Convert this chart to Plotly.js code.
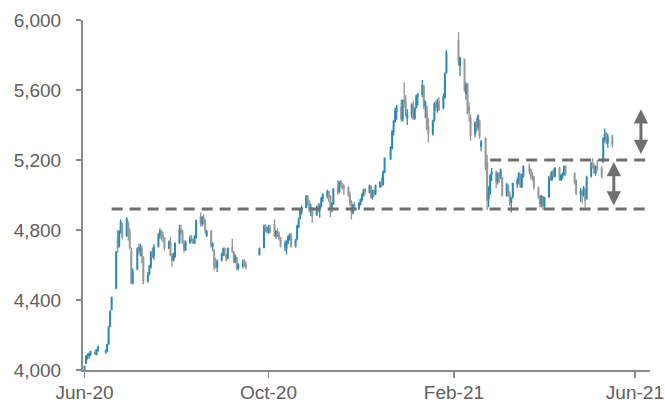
<!DOCTYPE html>
<html>
<head>
<meta charset="utf-8">
<script src="https://cdn.plot.ly/plotly-3.0.1.min.js"></script>
<style>html,body{margin:0;padding:0;background:#fff;}#chart{width:665px;height:405px;}</style>
</head>
<body>
<div id="chart"></div>
<script>
// Trading dates
var dates = [
 '2020-06-15','2020-06-16','2020-06-17','2020-06-18','2020-06-19','2020-06-22','2020-06-23','2020-06-24','2020-06-29','2020-06-30',
 '2020-07-01','2020-07-02','2020-07-03','2020-07-06','2020-07-07','2020-07-08','2020-07-09','2020-07-10','2020-07-13','2020-07-14','2020-07-15','2020-07-16','2020-07-17','2020-07-20','2020-07-21','2020-07-22','2020-07-23','2020-07-24','2020-07-27','2020-07-28','2020-07-29','2020-07-30','2020-07-31',
 '2020-08-03','2020-08-04','2020-08-05','2020-08-06','2020-08-07','2020-08-10','2020-08-11','2020-08-12','2020-08-13','2020-08-14','2020-08-17','2020-08-18','2020-08-19','2020-08-20','2020-08-21','2020-08-24','2020-08-25','2020-08-26','2020-08-27','2020-08-28','2020-08-31',
 '2020-09-01','2020-09-02','2020-09-03','2020-09-04','2020-09-07','2020-09-08','2020-09-09','2020-09-10','2020-09-11','2020-09-14','2020-09-15','2020-09-16','2020-09-17','2020-09-18','2020-09-21','2020-09-22','2020-09-23','2020-09-24','2020-09-25','2020-09-28','2020-09-29','2020-09-30',
 '2020-10-09','2020-10-12','2020-10-13','2020-10-14','2020-10-15','2020-10-16','2020-10-19','2020-10-20','2020-10-21','2020-10-22','2020-10-23','2020-10-26','2020-10-27','2020-10-28','2020-10-29','2020-10-30',
 '2020-11-02','2020-11-03','2020-11-04','2020-11-05','2020-11-06','2020-11-09','2020-11-10','2020-11-11','2020-11-12','2020-11-13','2020-11-16','2020-11-17','2020-11-18','2020-11-19','2020-11-20','2020-11-23','2020-11-24','2020-11-25','2020-11-26','2020-11-27','2020-11-30',
 '2020-12-01','2020-12-02','2020-12-03','2020-12-04','2020-12-07','2020-12-08','2020-12-09','2020-12-10','2020-12-11','2020-12-14','2020-12-15','2020-12-16','2020-12-17','2020-12-18','2020-12-21','2020-12-22','2020-12-23','2020-12-24','2020-12-25','2020-12-28','2020-12-29','2020-12-30','2020-12-31',
 '2021-01-04','2021-01-05','2021-01-06','2021-01-07','2021-01-08','2021-01-11','2021-01-12','2021-01-13','2021-01-14','2021-01-15','2021-01-18','2021-01-19','2021-01-20','2021-01-21','2021-01-22','2021-01-25','2021-01-26','2021-01-27','2021-01-28','2021-01-29',
 '2021-02-01','2021-02-02','2021-02-03','2021-02-04','2021-02-05','2021-02-08','2021-02-09','2021-02-10','2021-02-18','2021-02-19','2021-02-22','2021-02-23','2021-02-24','2021-02-25','2021-02-26',
 '2021-03-01','2021-03-02','2021-03-03','2021-03-04','2021-03-05','2021-03-08','2021-03-09','2021-03-10','2021-03-11','2021-03-12','2021-03-15','2021-03-16','2021-03-17','2021-03-18','2021-03-19','2021-03-22','2021-03-23','2021-03-24','2021-03-25','2021-03-26','2021-03-29','2021-03-30','2021-03-31',
 '2021-04-01','2021-04-02','2021-04-06','2021-04-07','2021-04-08','2021-04-09','2021-04-12','2021-04-13','2021-04-14','2021-04-15','2021-04-16','2021-04-19','2021-04-20','2021-04-21','2021-04-22','2021-04-23','2021-04-26','2021-04-27','2021-04-28','2021-04-29','2021-04-30',
 '2021-05-06','2021-05-07','2021-05-10','2021-05-11','2021-05-12','2021-05-13','2021-05-14','2021-05-17','2021-05-18','2021-05-19','2021-05-20','2021-05-21','2021-05-24','2021-05-25','2021-05-26','2021-05-27','2021-05-28','2021-05-31'
];
var openV = [
 3995,4040,4078,4085,4090,4100,4090,4115,4110,4105,
 4150,4250,4345,4470,4760,4710,4800,4830,4770,4840,4790,4680,4500,4580,4700,4680,4690,4640,4510,4550,4590,4675,4650,
 4710,4770,4790,4770,4750,4700,4730,4650,4630,4650,4730,4800,4790,4720,4690,4730,4750,4740,4725,4760,4870,
 4840,4870,4850,4770,4790,4710,4680,4600,4590,4630,4660,4690,4650,4640,4700,4670,4620,4640,4585,4600,4620,4600,
 4660,4700,4820,4810,4795,4810,4830,4770,4790,4770,4755,4710,4700,4730,4755,4770,
 4710,4750,4820,4870,4905,4930,4990,4960,4920,4920,4890,4930,4920,4940,4980,5000,5020,4990,4920,4950,5040,
 5020,5075,5060,5050,5045,5000,4960,4900,4940,4925,4950,4975,5000,5030,5015,5050,4990,5020,5010,5050,5070,5060,5130,
 5210,5270,5365,5420,5480,5500,5435,5540,5530,5440,5460,5515,5440,5500,5565,5575,5620,5510,5500,5390,
 5350,5430,5520,5505,5530,5500,5560,5700,5880,5740,5770,5580,5630,5500,5440,
 5350,5415,5390,5420,5280,5320,5180,4980,5010,5120,5130,5080,5120,5110,5100,5000,5050,5000,4960,4990,5065,5080,5120,
 5050,5110,5160,5140,5110,5100,5040,4990,4950,4990,4940,4990,5100,5090,5130,5110,5150,5090,5110,5120,5160,
 5120,5080,5010,5020,5000,5030,4980,5110,5180,5160,5130,5160,5150,5190,5320,5350,5300,5330
];
var highV = [
 4025,4085,4095,4100,4110,4115,4120,4140,4120,4150,
 4250,4340,4420,4680,4800,4800,4860,4840,4875,4850,4810,4700,4580,4700,4725,4720,4710,4650,4560,4600,4680,4700,4720,
 4780,4810,4800,4790,4760,4740,4760,4670,4670,4730,4830,4830,4800,4740,4740,4770,4770,4750,4770,4860,4900,
 4880,4890,4860,4800,4800,4730,4690,4640,4630,4670,4700,4700,4665,4700,4750,4680,4660,4645,4610,4630,4635,4620,
 4700,4830,4835,4820,4830,4830,4860,4800,4810,4790,4760,4740,4740,4770,4780,4785,
 4750,4830,4870,4920,4940,5000,5000,4970,4950,4930,4940,4955,4950,4990,5010,5030,5025,5000,4960,5040,5085,
 5080,5085,5070,5060,5050,5020,4970,4950,4960,4960,4980,5010,5035,5040,5060,5055,5030,5030,5060,5080,5100,5140,5215,
 5280,5370,5430,5500,5515,5545,5545,5645,5570,5490,5525,5540,5500,5575,5585,5657,5630,5540,5510,5440,
 5430,5530,5540,5550,5560,5580,5700,5830,5930,5790,5780,5645,5640,5530,5460,
 5420,5440,5460,5430,5315,5330,5230,5050,5120,5155,5140,5130,5130,5150,5105,5070,5060,5020,4990,5070,5100,5130,5125,
 5120,5170,5180,5150,5130,5110,5050,5000,5000,4995,4990,5110,5130,5140,5150,5160,5160,5120,5130,5170,5170,
 5130,5090,5040,5030,5050,5035,5110,5190,5210,5180,5170,5200,5165,5330,5380,5360,5350,5345
];
var lowV = [
 3990,4035,4060,4065,4080,4085,4085,4105,4090,4100,
 4145,4245,4340,4460,4670,4700,4780,4750,4760,4740,4690,4490,4490,4570,4660,4650,4610,4490,4500,4540,4580,4640,4630,
 4700,4750,4740,4730,4680,4690,4650,4590,4620,4640,4720,4770,4720,4670,4680,4720,4730,4720,4720,4750,4820,
 4820,4830,4780,4760,4700,4680,4570,4580,4560,4620,4650,4650,4620,4635,4670,4610,4610,4570,4570,4580,4590,4575,
 4655,4700,4790,4780,4780,4780,4760,4750,4760,4740,4700,4680,4660,4720,4740,4700,
 4700,4740,4810,4860,4890,4925,4940,4900,4880,4840,4880,4900,4870,4930,4960,4980,4960,4875,4900,4945,5000,
 5010,5040,5030,5000,4990,4940,4860,4890,4910,4915,4940,4960,4990,5000,5010,4980,4975,4990,5000,5040,5045,5055,5125,
 5200,5260,5340,5415,5430,5420,5420,5500,5450,5400,5440,5430,5430,5495,5510,5560,5490,5440,5370,5300,
 5340,5420,5480,5470,5480,5490,5550,5695,5740,5680,5590,5545,5460,5420,5310,
 5330,5360,5370,5320,5250,5140,4915,4930,5000,5080,5040,5060,5070,5090,4990,4990,4990,4940,4900,4980,5040,5060,5040,
 5040,5100,5120,5090,5080,5030,4980,4930,4930,4915,4920,4985,5080,5080,5100,5100,5080,5080,5090,5110,5110,
 5060,5000,4960,4950,4990,4930,4975,5100,5150,5120,5110,5140,5095,5185,5300,5290,5270,5270
];
var closeV = [
 4020,4080,4085,4090,4105,4095,4115,4130,4100,4145,
 4245,4335,4415,4670,4700,4790,4845,4760,4860,4790,4700,4500,4560,4690,4680,4700,4650,4510,4540,4590,4670,4650,4700,
 4770,4790,4770,4760,4700,4730,4660,4630,4650,4720,4800,4790,4730,4690,4730,4750,4740,4730,4760,4850,4840,
 4870,4850,4800,4790,4710,4720,4590,4590,4620,4660,4690,4660,4630,4695,4680,4620,4650,4580,4600,4610,4600,4590,
 4690,4820,4810,4790,4815,4790,4770,4790,4775,4755,4710,4720,4730,4760,4770,4710,
 4740,4820,4860,4910,4925,4990,4960,4920,4930,4880,4930,4920,4940,4980,5000,5020,4990,4920,4950,5030,5020,
 5075,5065,5050,5040,5000,4960,4900,4940,4925,4950,4975,5000,5030,5015,5050,4990,5020,5010,5050,5070,5060,5130,5210,
 5270,5365,5420,5480,5495,5435,5540,5530,5460,5460,5515,5440,5495,5565,5570,5625,5510,5530,5380,5350,
 5420,5520,5505,5530,5490,5560,5690,5810,5770,5780,5600,5630,5470,5485,5340,
 5415,5390,5450,5340,5300,5160,4970,5000,5110,5130,5080,5120,5110,5140,5000,5060,5000,4960,4980,5065,5080,5125,5050,
 5110,5160,5140,5110,5100,5050,4990,4950,4990,4940,4980,5100,5090,5130,5110,5150,5090,5110,5120,5160,5125,
 5080,5010,5020,5000,5040,4970,5100,5180,5160,5130,5160,5150,5110,5320,5350,5310,5330,5290
];

// Horizontal reference levels (dashed)
var levelValues = [4920, 5200];
var levelStart = ['2020-07-03', '2021-03-11'];
var levelEnd = ['2021-06-22', '2021-06-25'];

// Double-headed arrows: x date, lower and upper value
var arrowX = ['2021-06-01', '2021-06-19'];
var arrowLow = [4932, 5226];
var arrowHigh = [5188, 5490];

// Axis ticks
var yTicks = [4000, 4400, 4800, 5200, 5600, 6000];
var xTickVals = ['2020-06-15', '2020-10-15', '2021-02-15', '2021-06-15'];
var xTickText = ['Jun-20', 'Oct-20', 'Feb-21', 'Jun-21'];

var teal = '#2b8ab3';
var grey = '#979797';
var dark = '#6f6f6f';

var traces = [{
  type: 'candlestick',
  x: dates, open: openV, high: highV, low: lowV, close: closeV,
  increasing: {line: {color: teal, width: 1.3}, fillcolor: teal},
  decreasing: {line: {color: grey, width: 1.3}, fillcolor: grey},
  whiskerwidth: 0,
  hoverinfo: 'none',
  showlegend: false
}];
for (var i = 0; i < levelValues.length; i++) {
  traces.push({
    type: 'scatter', mode: 'lines',
    x: [levelStart[i], levelEnd[i]],
    y: [levelValues[i], levelValues[i]],
    line: {color: dark, width: 3, dash: '11px,7px'},
    hoverinfo: 'none', showlegend: false
  });
}

var annotations = [];
for (var j = 0; j < arrowX.length; j++) {
  annotations.push({
    x: arrowX[j], y: arrowHigh[j], xref: 'x', yref: 'y',
    ax: arrowX[j], ay: arrowLow[j], axref: 'x', ayref: 'y',
    text: '', showarrow: true,
    arrowside: 'end+start',
    arrowhead: 2, startarrowhead: 2,
    arrowsize: 0.95, startarrowsize: 0.95,
    arrowwidth: 3, arrowcolor: dark,
    standoff: 0, startstandoff: 0
  });
}

var tickFont = {family: 'Liberation Sans, Arial, sans-serif', size: 19, color: '#606060'};

var layout = {
  width: 665, height: 405,
  margin: {l: 83, r: 15, t: 20, b: 35},
  paper_bgcolor: '#ffffff', plot_bgcolor: '#ffffff',
  showlegend: false,
  xaxis: {
    type: 'date',
    range: ['2020-06-14', '2021-06-25'],
    rangeslider: {visible: false},
    tickmode: 'array', tickvals: xTickVals, ticktext: xTickText,
    ticks: 'outside', ticklen: 6, tickwidth: 1.5, tickcolor: '#8a8a8a',
    showline: true, linecolor: '#8a8a8a', linewidth: 2,
    showgrid: false, zeroline: false,
    tickfont: tickFont,
    ticklabelstandoff: -2,
    fixedrange: true
  },
  yaxis: {
    range: [4000, 6000],
    tickmode: 'array', tickvals: yTicks, tickformat: ',',
    ticks: 'outside', ticklen: 5, tickwidth: 1.5, tickcolor: '#8a8a8a',
    showline: true, linecolor: '#8a8a8a', linewidth: 2,
    showgrid: false, zeroline: false,
    tickfont: tickFont,
    ticklabelstandoff: 11,
    fixedrange: true
  },
  annotations: annotations
};

Plotly.newPlot('chart', traces, layout, {displayModeBar: false, staticPlot: true});
</script>
</body>
</html>
